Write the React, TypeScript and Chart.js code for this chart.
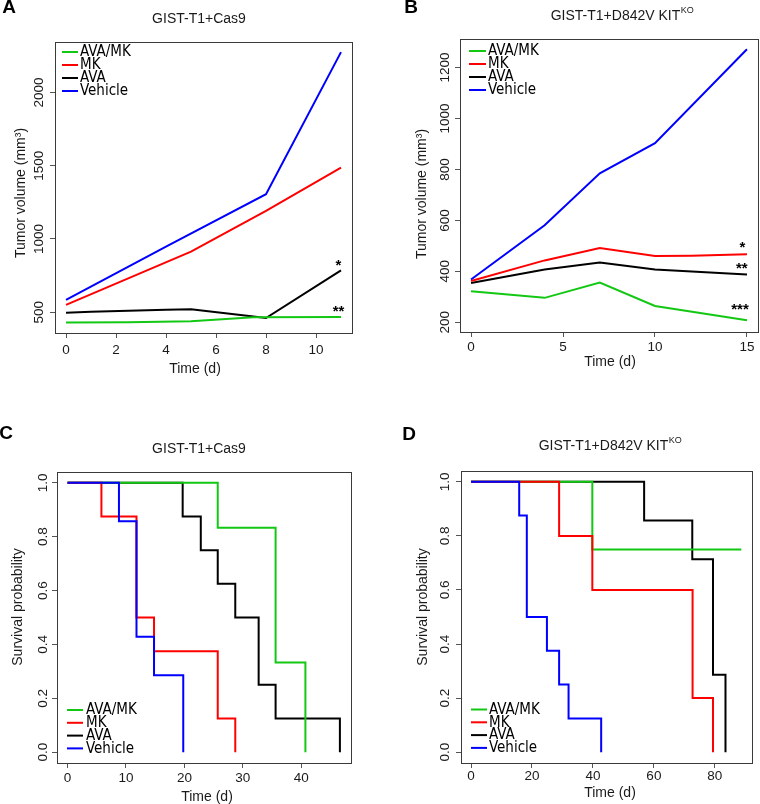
import React, { useEffect, useRef } from 'react';
import { Chart, registerables } from 'chart.js';

Chart.register(...registerables);

const FONT = '"Liberation Sans", Arial, Helvetica, sans-serif';
const LEGEND_FONT = '"DejaVu Sans Condensed", "Liberation Sans Narrow", "Liberation Sans", sans-serif';

// ---------- series ----------
const seriesNames = ['AVA/MK', 'MK', 'AVA', 'Vehicle'];
const seriesColors = ['#12c812', '#ff0000', '#000000', '#0000ff'];
// drawing order (lower = on top)
const seriesOrder = [2, 1, 3, 0];

// ---------- Panel A: tumor volume, GIST-T1+Cas9 ----------
const aDaysAvaMk = [0, 2.5, 5, 7.5, 11];
const aVolAvaMk = [430, 432, 438, 466, 468];
const aDaysMk = [0, 5, 8, 11];
const aVolMk = [550, 913, 1192, 1487];
const aDaysAva = [0, 1, 4, 5, 7.5, 8, 11];
const aVolAva = [497, 503, 516, 520, 470, 460, 785];
const aDaysVeh = [0, 4, 8, 11];
const aVolVeh = [584, 947, 1306, 2276];
const aXTicks = [0, 2, 4, 6, 8, 10];
const aYTicks = [500, 1000, 1500, 2000];
const aStarText = ['*', '**'];
const aStarX = [10.9, 10.9];
const aStarY = [836, 522];

// ---------- Panel B: tumor volume, GIST-T1+D842V KIT KO ----------
const bDaysAvaMk = [0, 4, 7, 10, 15];
const bVolAvaMk = [322, 296, 356, 264, 208];
const bDaysMk = [0, 4, 7, 10, 12, 15];
const bVolMk = [362, 443, 492, 460, 461, 467];
const bDaysAva = [0, 4, 7, 10, 15];
const bVolAva = [354, 407, 435, 407, 388];
const bDaysVeh = [0, 4, 7, 10, 15];
const bVolVeh = [368, 581, 785, 903, 1272];
const bXTicks = [0, 5, 10, 15];
const bYTicks = [200, 400, 600, 800, 1000, 1200];
const bStarText = ['*', '**', '***'];
const bStarX = [14.75, 14.72, 14.62];
const bStarY = [503, 420, 259];

// ---------- Panel C: survival, GIST-T1+Cas9 ----------
const cTAvaMk = [0, 25.7, 35.6, 40.7];
const cSAvaMk = [1, 0.833, 0.333, 0];
const cTMk = [0, 5.8, 11.8, 14.8, 25.7, 28.7];
const cSMk = [1, 0.875, 0.5, 0.375, 0.125, 0];
const cTAva = [0, 19.7, 22.8, 25.7, 28.7, 32.7, 35.6, 46.6];
const cSAva = [1, 0.875, 0.75, 0.625, 0.5, 0.25, 0.125, 0];
const cTVeh = [0, 8.8, 11.8, 14.8, 19.8];
const cSVeh = [1, 0.857, 0.429, 0.286, 0];
const cXTicks = [0, 10, 20, 30, 40];

// ---------- Panel D: survival, GIST-T1+D842V KIT KO ----------
const dTAvaMk = [0, 39.8, 88.7];
const dSAvaMk = [1, 0.75, 0.75];
const dTMk = [0, 28.9, 39.8, 72.7, 79.4];
const dSMk = [1, 0.8, 0.6, 0.2, 0];
const dTAva = [0, 56.8, 72.6, 79.4, 83.5];
const dSAva = [1, 0.857, 0.714, 0.286, 0];
const dTVeh = [0, 15.8, 18.3, 24.9, 28.9, 32.0, 42.7];
const dSVeh = [1, 0.875, 0.5, 0.375, 0.25, 0.125, 0];
const dXTicks = [0, 20, 40, 60, 80];

const kmYTicks = [0, 0.2, 0.4, 0.6, 0.8, 1.0];

type Legend = { x1: number; x2: number; tx: number; y0: number; dy: number };
type PanelDef = {
  left: number; top: number; w: number; h: number;
  area: { l: number; t: number; r: number; b: number };
  xMin: number; xMax: number; yMin: number; yMax: number;
  xTicks: number[]; yTicks: number[]; yFmt: (v: number) => string;
  xTickY: number; yTickX: number;
  xTitle: string; xTitlePos: [number, number];
  yTitle: string; yTitlePos: [number, number];
  title: string; titleSup?: string; titlePos: [number, number];
  letter: string; letterPos: [number, number];
  legend: Legend;
  series: { x: number[]; y: number[] }[];
  stepped: boolean;
  stars?: { text: string[]; x: number[]; y: number[] };
};

const intFmt = (v: number) => String(Math.round(v));
const dec1 = (v: number) => v.toFixed(1);

const panels: PanelDef[] = [
  {
    left: 0, top: 0, w: 380, h: 400,
    area: { l: 55, t: 42, r: 352, b: 333 },
    xMin: -0.44, xMax: 11.44, yMin: 358, yMax: 2345,
    xTicks: aXTicks, yTicks: aYTicks, yFmt: intFmt,
    xTickY: 350, yTickX: 39,
    xTitle: 'Time (d)', xTitlePos: [195, 369],
    yTitle: 'Tumor volume (mm³)', yTitlePos: [21, 193],
    title: 'GIST-T1+Cas9', titlePos: [199, 19],
    letter: 'A', letterPos: [9, 8],
    legend: { x1: 62, x2: 78, tx: 80, y0: 52, dy: 13 },
    series: [
      { x: aDaysAvaMk, y: aVolAvaMk },
      { x: aDaysMk, y: aVolMk },
      { x: aDaysAva, y: aVolAva },
      { x: aDaysVeh, y: aVolVeh },
    ],
    stepped: false,
    stars: { text: aStarText, x: aStarX, y: aStarY },
  },
  {
    left: 380, top: 0, w: 380, h: 400,
    area: { l: 460, t: 39, r: 758, b: 332 },
    xMin: -0.6, xMax: 15.6, yMin: 162, yMax: 1312,
    xTicks: bXTicks, yTicks: bYTicks, yFmt: intFmt,
    xTickY: 347, yTickX: 445,
    xTitle: 'Time (d)', xTitlePos: [610, 362],
    yTitle: 'Tumor volume (mm³)', yTitlePos: [422, 194],
    title: 'GIST-T1+D842V KIT', titleSup: 'KO', titlePos: [622, 16],
    letter: 'B', letterPos: [411, 8],
    legend: { x1: 469, x2: 486, tx: 488, y0: 51, dy: 13 },
    series: [
      { x: bDaysAvaMk, y: bVolAvaMk },
      { x: bDaysMk, y: bVolMk },
      { x: bDaysAva, y: bVolAva },
      { x: bDaysVeh, y: bVolVeh },
    ],
    stepped: false,
    stars: { text: bStarText, x: bStarX, y: bStarY },
  },
  {
    left: 0, top: 400, w: 380, h: 404,
    area: { l: 57, t: 472, r: 351, b: 763 },
    xMin: -1.8, xMax: 48.5, yMin: -0.04, yMax: 1.04,
    xTicks: cXTicks, yTicks: kmYTicks, yFmt: dec1,
    xTickY: 778, yTickX: 43,
    xTitle: 'Time (d)', xTitlePos: [207, 797],
    yTitle: 'Survival probability', yTitlePos: [18, 607],
    title: 'GIST-T1+Cas9', titlePos: [199, 449],
    letter: 'C', letterPos: [6, 434],
    legend: { x1: 67, x2: 83, tx: 86, y0: 710, dy: 12.8 },
    series: [
      { x: cTAvaMk, y: cSAvaMk },
      { x: cTMk, y: cSMk },
      { x: cTAva, y: cSAva },
      { x: cTVeh, y: cSVeh },
    ],
    stepped: true,
  },
  {
    left: 380, top: 400, w: 380, h: 404,
    area: { l: 461, t: 471, r: 752, b: 763 },
    xMin: -3.3, xMax: 92.2, yMin: -0.04, yMax: 1.04,
    xTicks: dXTicks, yTicks: kmYTicks, yFmt: dec1,
    xTickY: 776, yTickX: 445,
    xTitle: 'Time (d)', xTitlePos: [610, 793],
    yTitle: 'Survival probability', yTitlePos: [423, 607],
    title: 'GIST-T1+D842V KIT', titleSup: 'KO', titlePos: [610, 446],
    letter: 'D', letterPos: [409, 435],
    legend: { x1: 471, x2: 487, tx: 489, y0: 709.5, dy: 12.8 },
    series: [
      { x: dTAvaMk, y: dSAvaMk },
      { x: dTMk, y: dSMk },
      { x: dTAva, y: dSAva },
      { x: dTVeh, y: dSVeh },
    ],
    stepped: true,
  },
];

const TEXT = '#1a1a1a';

function makeDecor(p: PanelDef) {
  const X = (v: number) => v - p.left;
  const Y = (v: number) => v - p.top;
  return {
    id: 'panelDecor',
    afterDraw(chart: any) {
      const ctx = chart.ctx as CanvasRenderingContext2D;
      const ca = chart.chartArea;
      const xs = chart.scales.x;
      const ys = chart.scales.y;
      ctx.save();
      // plot box
      ctx.strokeStyle = '#3a3a3a';
      ctx.lineWidth = 1;
      ctx.strokeRect(Math.round(ca.left) + 0.5, Math.round(ca.top) + 0.5,
        Math.round(ca.right - ca.left), Math.round(ca.bottom - ca.top));

      ctx.fillStyle = TEXT;
      ctx.textAlign = 'center';
      ctx.textBaseline = 'middle';
      // x tick labels
      ctx.font = `13.5px ${FONT}`;
      xs.ticks.forEach((t: any) => {
        ctx.fillText(String(t.value), xs.getPixelForValue(t.value), Y(p.xTickY));
      });
      // y tick labels, rotated (R style)
      ys.ticks.forEach((t: any) => {
        const py = ys.getPixelForValue(t.value);
        ctx.save();
        ctx.translate(X(p.yTickX), py);
        ctx.rotate(-Math.PI / 2);
        ctx.fillText(p.yFmt(t.value), 0, 0);
        ctx.restore();
      });
      // axis titles
      ctx.font = `14px ${FONT}`;
      ctx.fillText(p.xTitle, X(p.xTitlePos[0]), Y(p.xTitlePos[1]));
      ctx.save();
      ctx.translate(X(p.yTitlePos[0]), Y(p.yTitlePos[1]));
      ctx.rotate(-Math.PI / 2);
      ctx.fillText(p.yTitle, 0, 0);
      ctx.restore();

      // title (with optional superscript)
      ctx.font = `14px ${FONT}`;
      const mainW = ctx.measureText(p.title).width;
      let supW = 0;
      if (p.titleSup) {
        ctx.font = `9px ${FONT}`;
        supW = ctx.measureText(p.titleSup).width;
      }
      const startX = X(p.titlePos[0]) - (mainW + supW) / 2;
      ctx.textAlign = 'left';
      ctx.font = `14px ${FONT}`;
      ctx.fillText(p.title, startX, Y(p.titlePos[1]));
      if (p.titleSup) {
        ctx.font = `9px ${FONT}`;
        ctx.fillText(p.titleSup, startX + mainW + 0.5, Y(p.titlePos[1]) - 5);
      }

      // panel letter
      ctx.font = `bold 19px ${FONT}`;
      ctx.textAlign = 'center';
      ctx.fillStyle = '#000';
      ctx.fillText(p.letter, X(p.letterPos[0]), Y(p.letterPos[1]));

      // legend (line samples)
      const lg = p.legend;
      ctx.font = `15px ${LEGEND_FONT}`;
      ctx.textAlign = 'left';
      chart.data.datasets.forEach((ds: any, i: number) => {
        const ly = Y(lg.y0 + i * lg.dy);
        ctx.strokeStyle = ds.borderColor;
        ctx.lineWidth = 2;
        ctx.beginPath();
        ctx.moveTo(X(lg.x1), ly);
        ctx.lineTo(X(lg.x2), ly);
        ctx.stroke();
        ctx.fillStyle = '#000';
        ctx.fillText(ds.label, X(lg.tx), ly + 0.5);
      });

      // significance stars
      if (p.stars) {
        ctx.font = `bold 15px ${FONT}`;
        ctx.textAlign = 'center';
        ctx.fillStyle = '#000';
        p.stars.text.forEach((s, i) => {
          ctx.fillText(s, xs.getPixelForValue(p.stars!.x[i]), ys.getPixelForValue(p.stars!.y[i]) + 3);
        });
      }
      ctx.restore();
    },
  };
}

function Panel({ p }: { p: PanelDef }) {
  const ref = useRef<HTMLCanvasElement | null>(null);
  useEffect(() => {
    if (!ref.current) return;
    const datasets = p.series.map((s, i) => ({
      label: seriesNames[i],
      data: s.x.map((x, j) => ({ x, y: s.y[j] })),
      borderColor: seriesColors[i],
      backgroundColor: seriesColors[i],
      borderWidth: 2,
      pointRadius: 0,
      pointHoverRadius: 0,
      tension: 0,
      fill: false,
      stepped: p.stepped ? 'before' : false,
      order: seriesOrder[i],
    }));
    const tickGrid = {
      display: true,
      drawOnChartArea: false,
      drawTicks: true,
      tickLength: 5,
      color: '#555',
      tickColor: '#555',
      lineWidth: 1,
    };
    const chart = new Chart(ref.current, {
      type: 'line',
      data: { datasets: datasets as any },
      options: {
        responsive: false,
        animation: false,
        devicePixelRatio: 1,
        layout: {
          padding: {
            left: 0,
            top: p.area.t - p.top,
            right: p.w - (p.area.r - p.left),
            bottom: 0,
          },
        },
        plugins: {
          legend: { display: false },
          title: { display: false },
          tooltip: { enabled: false },
        },
        scales: {
          x: {
            type: 'linear',
            min: p.xMin,
            max: p.xMax,
            grid: tickGrid as any,
            border: { display: false },
            ticks: { display: false },
            afterBuildTicks: (s: any) => {
              s.ticks = p.xTicks.map((v) => ({ value: v }));
            },
            afterFit: (s: any) => {
              s.height = p.h - (p.area.b - p.top);
            },
          },
          y: {
            type: 'linear',
            min: p.yMin,
            max: p.yMax,
            grid: tickGrid as any,
            border: { display: false },
            ticks: { display: false },
            afterBuildTicks: (s: any) => {
              s.ticks = p.yTicks.map((v) => ({ value: v }));
            },
            afterFit: (s: any) => {
              s.width = p.area.l - p.left;
            },
          },
        },
      },
      plugins: [makeDecor(p)],
    });
    return () => chart.destroy();
  }, [p]);
  return (
    <canvas
      ref={ref}
      width={p.w}
      height={p.h}
      style={{ position: 'absolute', left: p.left, top: p.top, width: p.w, height: p.h }}
    />
  );
}

export default function App() {
  return (
    <div style={{ position: 'absolute', left: 0, top: 0, width: 760, height: 804, background: '#fff', overflow: 'hidden' }}>
      {panels.map((p, i) => (
        <Panel key={i} p={p} />
      ))}
    </div>
  );
}
